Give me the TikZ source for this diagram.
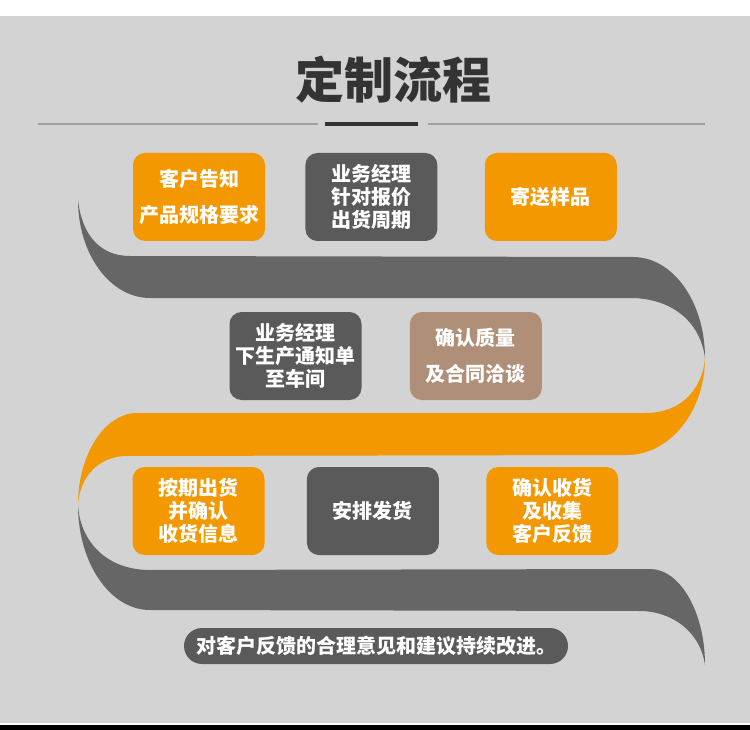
\documentclass[tikz,border=0pt]{standalone}
\usepackage{fontspec}
\newfontfamily\cjkfont{Noto Sans CJK SC}
\usepackage{tikz}
\usetikzlibrary{positioning}
\definecolor{flowbg}{HTML}{D3D3D3}
\definecolor{flowor}{HTML}{F39800}
\definecolor{flowdk}{HTML}{5A5A5A}
\definecolor{flowrb}{HTML}{666666}
\definecolor{flowbr}{HTML}{B08F78}
\definecolor{flowtt}{HTML}{333333}
\tikzset{
  stepbase/.style={rounded corners=12pt, minimum width=132pt, minimum height=88pt, align=center, inner sep=0pt, text=white, font=\cjkfont\bfseries\fontsize{20}{23}\selectfont},
  orangebox/.style={stepbase, fill=flowor},
  darkbox/.style={stepbase, fill=flowdk},
  brownbox/.style={stepbase, fill=flowbr},
  pill/.style={rounded corners=18pt, fill=flowdk, minimum width=384pt, minimum height=36pt, inner sep=0pt, text=white, font=\cjkfont\bfseries\fontsize{20}{23}\selectfont},
  ribbon/.style={draw=none},
}

\begin{document}
\begin{tikzpicture}[x=1pt, y=-1pt, node distance=40pt and 40pt]
  \useasboundingbox (0,0) rectangle (750,730);
  % BACKGROUND
  \fill[white] (0,0) rectangle (750,730);
  \fill[flowbg] (0,16) rectangle (750,723);
  \fill[black] (0,725) rectangle (750,730);

  % TITLE
  \node[text=flowtt, font=\cjkfont\bfseries\fontsize{49}{52}\selectfont] (title) at (393,80) {定制流程};
  \draw[line width=1.5pt, gray!75] (38,124) -- (318,124);
  \draw[line width=3.5pt, flowtt] (325,124) -- (418,124);
  \draw[line width=1.5pt, gray!75] (428,124) -- (705,124);

  % RIBBONS
  \fill[ribbon, flowrb] (78,200) .. controls (82,235) and (100,256) .. (130,256) -- (633,257)
    .. controls (673,257) and (705,302) .. (705,358)
    .. controls (700,320) and (670,298) .. (630,298) -- (150,298)
    .. controls (110,298) and (78,254) .. (78,200) -- cycle;
  \fill[ribbon, flowor] (705,358) .. controls (705,411) and (670,455) .. (627,455) -- (127,456)
    .. controls (100,456) and (80,475) .. (78,505)
    .. controls (78,454) and (105,413) .. (137,413) -- (645,413)
    .. controls (685,413) and (703,385) .. (705,358) -- cycle;
  \fill[ribbon, flowrb] (78,505) .. controls (78,563) and (110,610) .. (150,610) -- (640,611)
    .. controls (670,611) and (700,630) .. (705,665)
    .. controls (705,612) and (680,569) .. (650,569) -- (150,570)
    .. controls (105,570) and (80,540) .. (78,505) -- cycle;

  % ROW 1
  \node[orangebox] (notify) at (199,197) {客户告知\\[13pt]产品规格要求};
  \node[darkbox, right=40pt of notify] (quote) {业务经理\\针对报价\\出货周期};
  \node[orangebox, right=47pt of quote] (sample) {寄送样品};

  % ROW 2
  \node[darkbox] (produce) at (295.5,356) {业务经理\\下生产通知单\\至车间};
  \node[brownbox, right=48pt of produce] (confirm) {确认质量\\[13pt]及合同洽谈};

  % ROW 3
  \node[orangebox] (deliver) at (198.5,511) {按期出货\\并确认\\收货信息};
  \node[darkbox, right=42pt of deliver] (arrange) {安排发货};
  \node[orangebox, right=47pt of arrange] (feedback) {确认收货\\及收集\\客户反馈};

  % FOOTER
  \node[pill] (improve) at (376,646) {对客户反馈的合理意见和建议持续改进。};
\end{tikzpicture}
\end{document}
